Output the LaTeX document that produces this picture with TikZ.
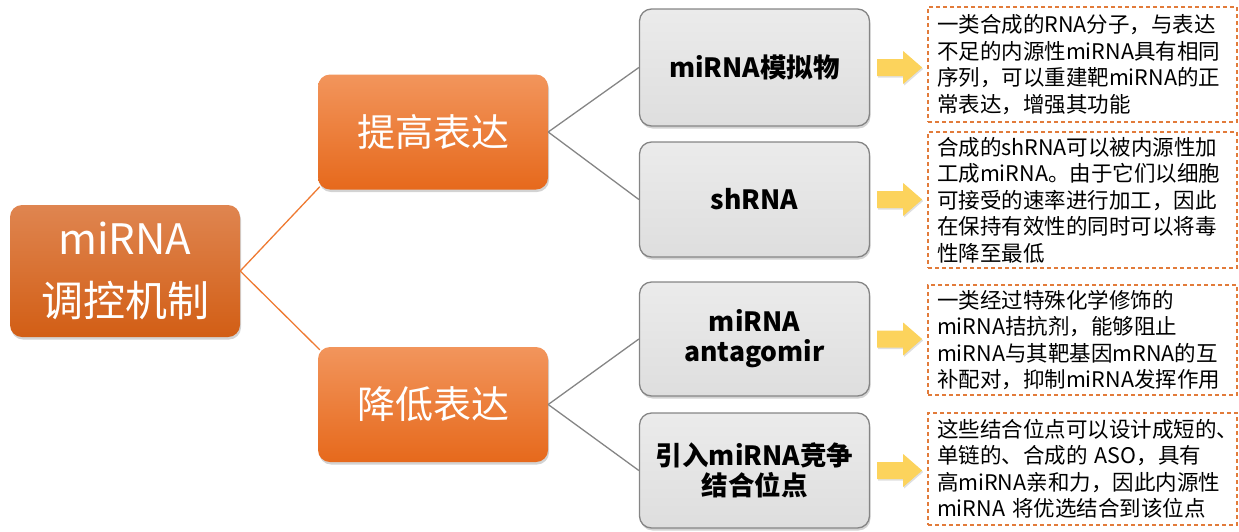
\documentclass[tikz,border=0pt]{standalone}
\usepackage{fontspec}
\setmainfont{Noto Sans CJK SC}
\usetikzlibrary{shadows}
\definecolor{mainTop}{HTML}{DF8550}
\definecolor{mainBot}{HTML}{D25E15}
\definecolor{oTop}{HTML}{F2955C}
\definecolor{oBot}{HTML}{E6691C}
\definecolor{oLine}{HTML}{EE7A32}
\definecolor{gLine}{HTML}{858585}
\definecolor{gTop}{HTML}{EBEBEB}
\definecolor{gBot}{HTML}{DEDEDE}
\definecolor{yArrow}{HTML}{FCD35C}
\definecolor{dashO}{HTML}{E27B3A}
\begin{document}
\begin{tikzpicture}[x=1pt,y=-1pt,
  shd/.style={drop shadow={opacity=0.35,shadow xshift=1pt,shadow yshift=-2.5pt}},
  mainbox/.style={rounded corners=12pt,top color=mainTop,bottom color=mainBot,
    text=white,align=center,minimum width=230pt,minimum height=132pt,inner sep=0pt,
    font=\fontsize{42}{62}\selectfont,shd},
  levelbox/.style={rounded corners=12pt,top color=oTop,bottom color=oBot,
    text=white,align=center,minimum width=230pt,minimum height=115pt,inner sep=0pt,
    font=\fontsize{38}{46}\selectfont,shd},
  graybox/.style={rounded corners=12pt,top color=gTop,bottom color=gBot,draw=gLine,
    line width=1.3pt,text=black,align=center,minimum width=230pt,minimum height=115pt,
    inner sep=0pt,font=\fontsize{26.5}{30}\selectfont\bfseries,shd},
  notebox/.style={draw=dashO,line width=1.2pt,dash pattern=on 4pt off 3pt,
    minimum width=309pt,text width=291pt,inner xsep=9pt,inner ysep=2pt,align=left,
    font=\fontsize{21.5}{26.5}\selectfont,text=black},
  oconn/.style={draw=oLine,line width=1.3pt},
  gconn/.style={draw=gLine,line width=1.3pt},
  yarr/.style={fill=yArrow,drop shadow={opacity=0.25,shadow xshift=1pt,shadow yshift=-1.5pt}}
]
\useasboundingbox (0,0) rectangle (1239,531);

\node[mainbox] (main) at (125,271) {miRNA\\调控机制};
\node[levelbox] (hi) at (433,132) {提高表达};
\node[levelbox] (lo) at (433,404.5) {降低表达};

\node[graybox,minimum height=117pt] (g1) at (754.5,67.5) {miRNA模拟物};
\node[graybox] (g2) at (754.5,199.5) {shRNA};
\node[graybox,minimum height=114pt] (g3) at (754.5,339) {miRNA\\antagomir};
\node[graybox] (g4) at (754.5,470.5) {引入miRNA竞争\\结合位点};

\node[notebox,minimum height=115pt] (n1) at (1082.5,64.5)
  {一类合成的RNA分子，与表达\\不足的内源性miRNA具有相同\\序列，可以重建靶miRNA的正\\常表达，增强其功能};
\node[notebox,minimum height=136pt] (n2) at (1082.5,200)
  {合成的shRNA可以被内源性加\\工成miRNA。由于它们以细胞\\可接受的速率进行加工，因此\\在保持有效性的同时可以将毒\\性降至最低};
\node[notebox,minimum height=110pt] (n3) at (1082.5,340)
  {一类经过特殊化学修饰的\\miRNA拮抗剂，能够阻止\\miRNA与其靶基因mRNA的互\\补配对，抑制miRNA发挥作用};
\node[notebox,minimum height=112pt] (n4) at (1082.5,469)
  {这些结合位点可以设计成短的、\\单链的、合成的 ASO，具有\\高miRNA亲和力，因此内源性\\miRNA 将优选结合到该位点};

\draw[oconn] (main.east) -- ([shift={(2pt,3pt)}]hi.south west);
\draw[oconn] (main.east) -- ([shift={(2pt,-3pt)}]lo.north west);
\draw[gconn] (hi.east) -- (g1.west);
\draw[gconn] (hi.east) -- (g2.west);
\draw[gconn] (lo.east) -- (g3.west);
\draw[gconn] (lo.east) -- (g4.west);

\foreach \g in {g1,g2,g3,g4}{
  \fill[yarr] ([xshift=7pt]\g.east) ++(0,-8.5) -- ++(26,0) -- ++(0,-8) -- ++(19,16.5)
    -- ++(-19,16.5) -- ++(0,-8) -- ++(-26,0) -- cycle;
}
\end{tikzpicture}
\end{document}
